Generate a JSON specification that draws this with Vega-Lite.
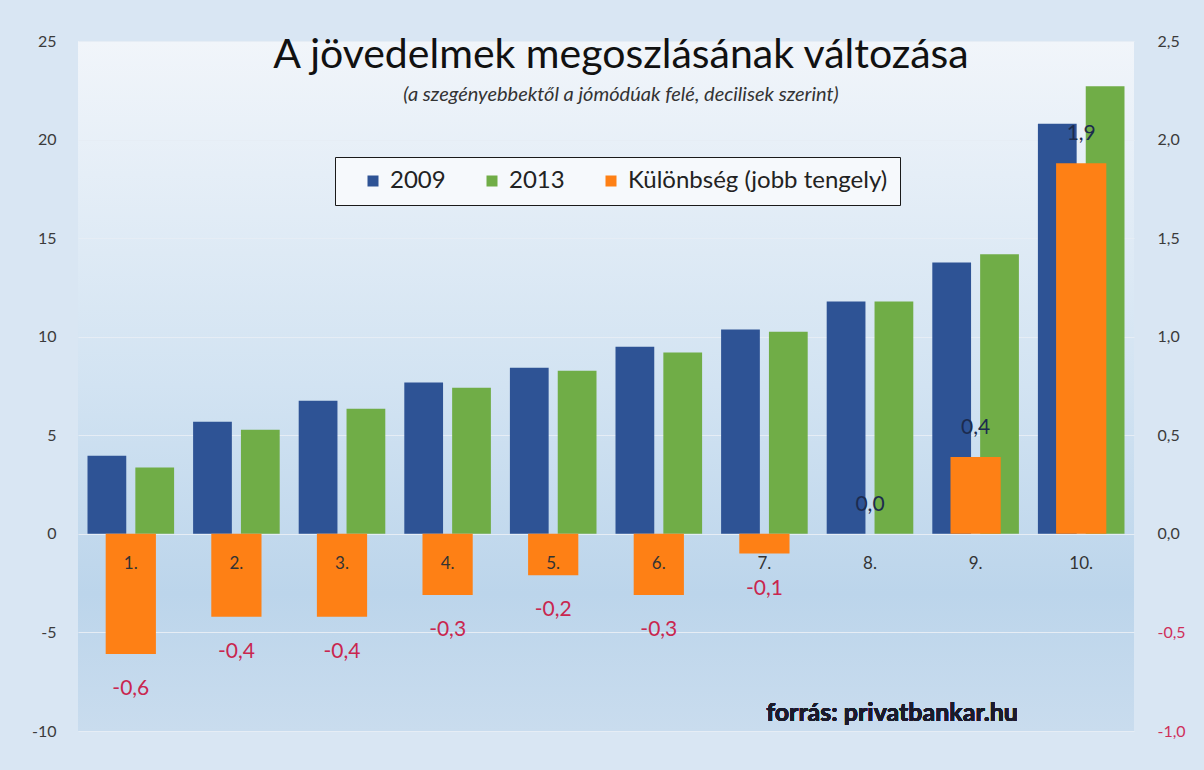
{
  "$schema": "https://vega.github.io/schema/vega-lite/v6.json",
  "width": 1056,
  "height": 690,
  "autosize": {"type": "none"},
  "padding": {"left": 78, "top": 41, "right": 70, "bottom": 39},
  "background": "#d9e6f3",
  "title": {
    "text": "A jövedelmek megoszlásának változása",
    "subtitle": "(a szegényebbektől  a jómódúak felé, decilisek szerint)",
    "font": "Lato",
    "fontSize": 41,
    "fontWeight": "normal",
    "color": "#111111",
    "subtitleFont": "Lato",
    "subtitleFontStyle": "italic",
    "subtitleFontSize": 20,
    "subtitleColor": "#333333",
    "subtitlePadding": 8,
    "anchor": "middle",
    "frame": "group",
    "orient": "top",
    "offset": -73,
    "dx": 15
  },
  "data": {
    "values": [
      {"decilis": "1.", "2009": 3.96, "2013": 3.37, "kulonbseg": -0.61},
      {"decilis": "2.", "2009": 5.69, "2013": 5.28, "kulonbseg": -0.42},
      {"decilis": "3.", "2009": 6.75, "2013": 6.35, "kulonbseg": -0.42},
      {"decilis": "4.", "2009": 7.68, "2013": 7.41, "kulonbseg": -0.31},
      {"decilis": "5.", "2009": 8.43, "2013": 8.27, "kulonbseg": -0.21},
      {"decilis": "6.", "2009": 9.49, "2013": 9.2, "kulonbseg": -0.31},
      {"decilis": "7.", "2009": 10.36, "2013": 10.25, "kulonbseg": -0.1},
      {"decilis": "8.", "2009": 11.78, "2013": 11.78, "kulonbseg": 0.0},
      {"decilis": "9.", "2009": 13.77, "2013": 14.18, "kulonbseg": 0.39},
      {"decilis": "10.", "2009": 20.8, "2013": 22.7, "kulonbseg": 1.88}
    ]
  },
  "encoding": {
    "x": {
      "field": "decilis",
      "type": "nominal",
      "sort": null,
      "scale": {"paddingInner": 0.18, "paddingOuter": 0.09},
      "axis": {
        "orient": "bottom",
        "offset": -197,
        "zindex": 1,
        "domain": false,
        "ticks": false,
        "tickSize": 0,
        "labelPadding": 29,
        "labelBaseline": "middle",
        "labelAngle": 0,
        "labelFont": "Lato",
        "labelFontSize": 17,
        "labelColor": "#333333",
        "title": null,
        "grid": false
      }
    }
  },
  "layer": [
    {
      "encoding": {
        "y": {
          "type": "quantitative",
          "scale": {"domain": [-10, 25], "nice": false, "zero": false},
          "axis": {
            "orient": "left",
            "values": [-10, -5, 0, 5, 10, 15, 20, 25],
            "format": "d",
            "domain": false,
            "ticks": false,
            "labelPadding": 22,
            "labelFont": "Lato",
            "labelFontSize": 16,
            "labelColor": "#3b3b3b",
            "grid": true,
            "gridColor": "#e6edf5",
            "gridWidth": 1.2,
            "title": null
          }
        }
      },
      "layer": [
        {
          "transform": [{"fold": ["2009", "2013"], "as": ["sorozat", "ertek"]}],
          "mark": {"type": "bar"},
          "encoding": {
            "xOffset": {"field": "sorozat", "type": "nominal", "scale": {"paddingInner": 0.19}},
            "y": {"field": "ertek", "type": "quantitative"},
            "color": {
              "field": "sorozat",
              "type": "nominal",
              "scale": {
                "domain": ["2009", "2013", "Különbség (jobb tengely)"],
                "range": ["#2e5395", "#70ad47", "#fe8015"]
              },
              "legend": {
                "orient": "none",
                "legendX": 257,
                "legendY": 116,
                "direction": "horizontal",
                "title": null,
                "symbolType": "square",
                "symbolSize": 121,
                "symbolStrokeWidth": 0,
                "symbolOffset": 14,
                "labelOffset": 5,
                "columnPadding": 20,
                "labelLimit": 400,
                "labelFont": "Lato",
                "labelFontSize": 24,
                "labelColor": "#222222",
                "padding": 12,
                "fillColor": "#f6f9fc",
                "strokeColor": "#1a1a1a"
              }
            }
          }
        },
        {
          "mark": {"type": "text", "font": "Lato", "fontWeight": "bold", "fontSize": 25, "color": "#1b1b2b", "dx": 22, "baseline": "middle"},
          "encoding": {
            "x": {"datum": "8."},
            "y": {"datum": -9.1},
            "text": {"value": "forrás: privatbankar.hu"}
          }
        }
      ]
    },
    {
      "encoding": {
        "y": {
          "field": "kulonbseg",
          "type": "quantitative",
          "scale": {"domain": [-1, 2.5], "nice": false, "zero": false},
          "axis": {
            "orient": "right",
            "values": [-1, -0.5, 0, 0.5, 1, 1.5, 2, 2.5],
            "format": ".1f",
            "domain": false,
            "ticks": false,
            "labelPadding": 23,
            "labelFont": "Lato",
            "labelFontSize": 16,
            "labelColor": {"condition": {"test": "datum.value < 0", "value": "#cf2f5a"}, "value": "#3b3b3b"},
            "grid": false,
            "title": null
          }
        }
      },
      "layer": [
        {
          "mark": {"type": "bar", "width": {"band": 0.58}},
          "encoding": {
            "color": {"datum": "Különbség (jobb tengely)", "type": "nominal"}
          }
        },
        {
          "transform": [{"filter": "datum.kulonbseg < 0"}],
          "mark": {"type": "text", "font": "Lato", "fontSize": 21, "color": "#c9264f", "dy": 35, "baseline": "middle"},
          "encoding": {
            "text": {"field": "kulonbseg", "type": "quantitative", "format": ".1f"}
          }
        },
        {
          "transform": [{"filter": "datum.kulonbseg >= 0"}],
          "mark": {"type": "text", "font": "Lato", "fontSize": 21, "color": "#1c2b4f", "dy": -29, "baseline": "middle"},
          "encoding": {
            "text": {"field": "kulonbseg", "type": "quantitative", "format": ".1f"}
          }
        }
      ]
    }
  ],
  "resolve": {"scale": {"y": "independent"}},
  "config": {
    "locale": {
      "number": {"decimal": ",", "thousands": " ", "grouping": [3], "currency": ["", " Ft"], "minus": "-"}
    },
    "view": {
      "stroke": null,
      "fill": {
        "gradient": "linear",
        "x1": 0, "y1": 0, "x2": 0, "y2": 1,
        "stops": [
          {"offset": 0, "color": "#f1f5fa"},
          {"offset": 0.5, "color": "#d2e3f2"},
          {"offset": 0.8, "color": "#bcd5eb"},
          {"offset": 1, "color": "#c9dcee"}
        ]
      }
    }
  }
}
